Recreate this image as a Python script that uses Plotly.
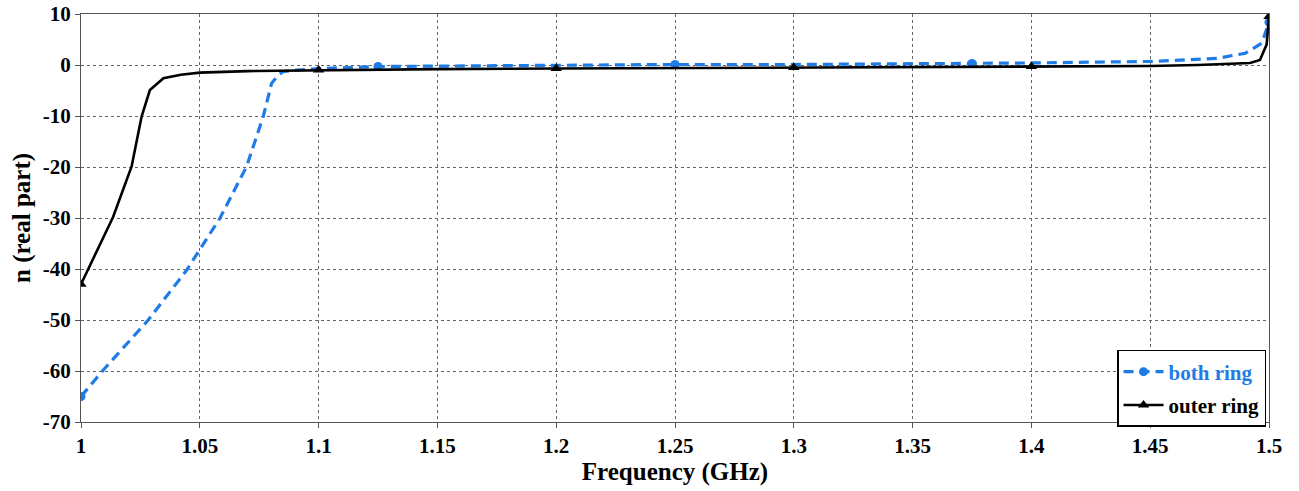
import plotly.graph_objects as go

# both ring (blue dashed, circle markers)
both_f = [1.0, 1.0094, 1.0283, 1.0445, 1.0585, 1.0697, 1.0767, 1.0802, 1.083, 1.0851, 1.0908, 1.1,
          1.125, 1.15, 1.2, 1.25, 1.3, 1.35, 1.375, 1.4, 1.45, 1.464, 1.478, 1.49, 1.497, 1.5]
both_n = [-65, -59.8, -50, -40.2, -30, -19.9, -10.1, -3.6, -2.0, -1.3, -1.0, -0.7,
          -0.3, -0.2, -0.1, 0.1, 0.1, 0.2, 0.3, 0.4, 0.7, 1.0, 1.3, 2.3, 4.3, 8.4]
both_markers = [1.0, 1.125, 1.25, 1.375, 1.5]

# outer ring (black solid, triangle markers)
outer_f = [1.0, 1.005, 1.0135, 1.0213, 1.0255, 1.029, 1.0347, 1.042, 1.05, 1.07, 1.1, 1.15,
           1.2, 1.25, 1.3, 1.35, 1.4, 1.45, 1.47, 1.485, 1.492, 1.4962, 1.499, 1.5]
outer_n = [-43, -38, -29.8, -19.9, -10.1, -4.9, -2.6, -1.9, -1.5, -1.2, -1.0, -0.8,
           -0.7, -0.6, -0.5, -0.4, -0.3, -0.2, 0.0, 0.2, 0.4, 1.0, 4.0, 9.5]
outer_markers = [1.0, 1.1, 1.2, 1.3, 1.4, 1.5]

x_ticks = [1, 1.05, 1.1, 1.15, 1.2, 1.25, 1.3, 1.35, 1.4, 1.45, 1.5]
x_tick_labels = ["1", "1.05", "1.1", "1.15", "1.2", "1.25", "1.3", "1.35", "1.4", "1.45", "1.5"]
y_ticks = [-70, -60, -50, -40, -30, -20, -10, 0, 10]
y_tick_labels = ["-70", "-60", "-50", "-40", "-30", "-20", "-10", "0", "10"]

BLUE = "#1f7be6"
FONT = "Liberation Serif"


def pick(fs, ns, marks):
    xs, ys = [], []
    for f, n in zip(fs, ns):
        if any(abs(f - m) < 1e-9 for m in marks):
            xs.append(f)
            ys.append(n)
    return xs, ys


fig = go.Figure()
both_line = dict(color=BLUE, width=3.2, dash="10px,6px")
outer_line = dict(color="black", width=2.6)
both_mark = dict(symbol="circle", size=9, color=BLUE)
outer_mark = dict(symbol="triangle-up", size=10, color="black")

fig.add_trace(go.Scatter(x=both_f, y=both_n, mode="lines", line=both_line, showlegend=False))
bx, by = pick(both_f, both_n, both_markers)
fig.add_trace(go.Scatter(x=bx, y=by, mode="markers", marker=both_mark, showlegend=False))

fig.add_trace(go.Scatter(x=outer_f, y=outer_n, mode="lines", line=outer_line, showlegend=False))
ox, oy = pick(outer_f, outer_n, outer_markers)
fig.add_trace(go.Scatter(x=ox, y=oy, mode="markers", marker=outer_mark, showlegend=False))

# legend entries
fig.add_trace(go.Scatter(x=[None], y=[None], mode="lines+markers", legendgroup="a",
                         name="<span style='color:%s'>both ring</span>" % BLUE,
                         line=both_line, marker=both_mark))
fig.add_trace(go.Scatter(x=[None], y=[None], mode="lines+markers", name="outer ring",
                         legendgroup="b", line=outer_line, marker=outer_mark))

axis_common = dict(
    showline=True, linecolor="#555", linewidth=1.2, mirror=True,
    showgrid=True, gridcolor="#666", griddash="dot", gridwidth=1,
    ticks="outside", ticklen=5, tickcolor="#555", zeroline=False, automargin=False,
    ticklabeloverflow="allow",
    tickfont=dict(family=FONT, size=21, color="black", weight="bold"),
)

fig.update_layout(
    width=1299, height=491,
    margin=dict(l=81, r=30, t=14, b=69),
    plot_bgcolor="white", paper_bgcolor="white",
    xaxis=dict(range=[1, 1.5], tickvals=x_ticks, ticktext=x_tick_labels,
               title=dict(text="Frequency (GHz)", standoff=4,
                          font=dict(family=FONT, size=25, color="black", weight="bold")),
               **axis_common),
    yaxis=dict(range=[-70, 10], tickvals=y_ticks, ticktext=y_tick_labels,
               title=dict(text="n (real part)", standoff=4,
                          font=dict(family=FONT, size=25, color="black", weight="bold")),
               **axis_common),
    legend=dict(x=0.9975, y=0.1765, xanchor="right", yanchor="top",
                bordercolor="black", borderwidth=1.5, bgcolor="white",
                font=dict(family=FONT, size=21, color="black", weight="bold"),
                tracegroupgap=3, itemwidth=40),
    showlegend=True,
)

fig.write_html("out.html", config={"displayModeBar": False},
               post_script="document.body.style.margin='0px';")
